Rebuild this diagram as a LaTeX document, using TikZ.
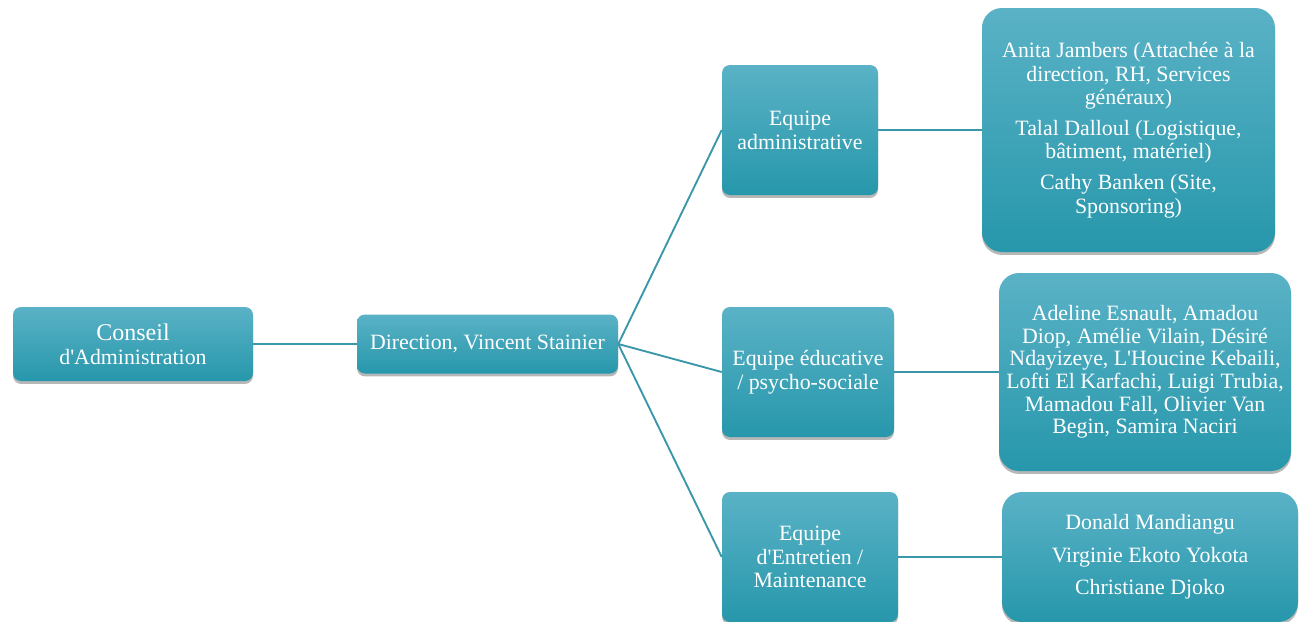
\documentclass[tikz,border=0pt]{standalone}
\usepackage{fontspec}
\setmainfont{Liberation Serif}
\newfontfamily\plainapos{Liberation Serif}
\newcommand{\ap}{{\plainapos'}}
\usetikzlibrary{shadows}
\definecolor{tealtop}{HTML}{5AB2C6}
\definecolor{tealbot}{HTML}{2797AB}
\definecolor{linecol}{HTML}{3A97AA}
\begin{document}
\begin{tikzpicture}[x=0.75pt,y=-0.75pt,
  box/.style={rounded corners=6pt, top color=tealtop, bottom color=tealbot, text=white,
    align=center, inner sep=0pt,
    drop shadow={shadow xshift=0pt, shadow yshift=-2.2pt, opacity=0.35, fill=black!80},
    font=\fontsize{16.4}{17.8}\selectfont},
  bigbox/.style={box, rounded corners=15pt},
  conn/.style={draw=linecol, line width=1.4pt}]
\useasboundingbox (0,0) rectangle (1305,621);
\fill[white] (0,0) rectangle (1305,621);

\node[box, minimum width=180pt, minimum height=55.5pt] (ca) at (133,344)
  {{\fontsize{18}{19.5}\selectfont Conseil}\\d\ap Administration};
\node[box, minimum width=195.75pt, minimum height=44.25pt] (dir) at (487.5,344)
  {Direction, Vincent Stainier};

\node[box, minimum width=117pt, minimum height=97.5pt] (eqa) at (800,130)
  {Equipe\\administrative};
\node[box, minimum width=129pt, minimum height=97.5pt] (eqe) at (808,372)
  {Equipe éducative\\/ psycho-sociale};
\node[box, minimum width=132pt, minimum height=97.5pt] (eqm) at (810,557)
  {Equipe\\d\ap Entretien /\\Maintenance};

\node[bigbox, minimum width=219.75pt, minimum height=183pt] (pa) at (1128.5,130)
  {Anita Jambers (Attachée à la\\direction, RH, Services\\généraux)\\[5pt]
   Talal Dalloul (Logistique,\\bâtiment, matériel)\\[5pt]
   Cathy Banken (Site,\\Sponsoring)};
\node[bigbox, minimum width=219pt, minimum height=148.5pt,
  font=\fontsize{16.4}{16.9}\selectfont] (pe) at (1145,372)
  {Adeline Esnault, Amadou\\Diop, Amélie Vilain, Désiré\\Ndayizeye, L\ap Houcine Kebaili,\\Lofti El Karfachi, Luigi Trubia,\\Mamadou Fall, Olivier Van\\Begin, Samira Naciri};
\node[bigbox, minimum width=222pt, minimum height=97.5pt] (pm) at (1150,557)
  {Donald Mandiangu\\[6.5pt]Virginie Ekoto Yokota\\[6.5pt]Christiane Djoko};

\draw[conn] (ca.east) -- (dir.west);
\draw[conn] (dir.east) -- (eqa.west);
\draw[conn] (dir.east) -- (eqe.west);
\draw[conn] (dir.east) -- (eqm.west);
\draw[conn] (eqa.east) -- (pa.west);
\draw[conn] (eqe.east) -- (pe.west);
\draw[conn] (eqm.east) -- (pm.west);
\end{tikzpicture}
\end{document}
